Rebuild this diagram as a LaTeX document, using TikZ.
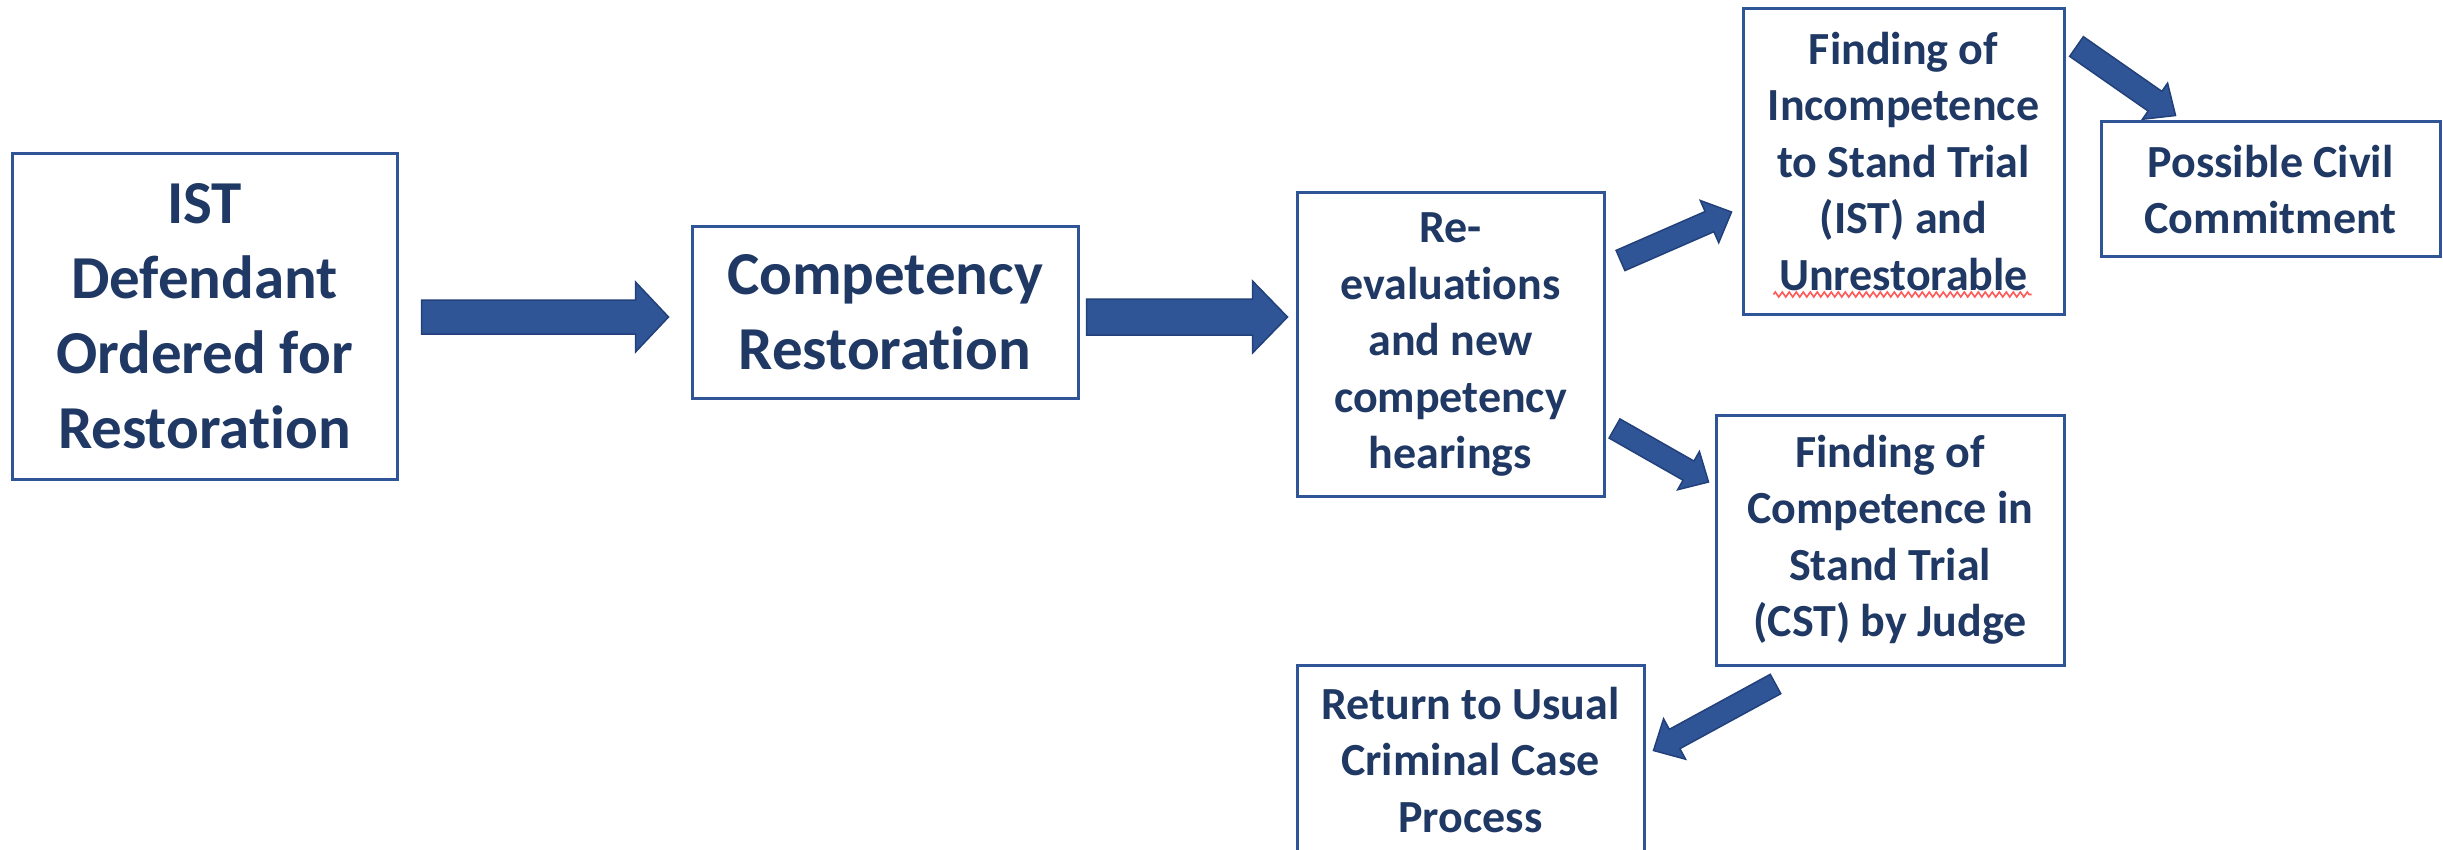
\documentclass[tikz,border=0pt]{standalone}
\usepackage{fontspec}
\setmainfont{Carlito}[Ligatures=NoCommon]
\usetikzlibrary{calc,decorations.pathmorphing}
\definecolor{boxblue}{HTML}{2F5597}
\definecolor{txtblue}{HTML}{1F3864}
\definecolor{arrowfill}{HTML}{2F5597}
\definecolor{arrowline}{HTML}{22407A}
\definecolor{squiggle}{HTML}{FF5A5A}
\tikzset{
  box/.style={draw=boxblue, line width=3pt, fill=white, text=txtblue, align=center, inner sep=0pt},
  bigtext/.style={font=\bfseries\fontsize{61}{75}\selectfont},
  smalltext/.style={font=\bfseries\fontsize{46}{56.5}\selectfont},
  fatsty/.style={fill=arrowfill, draw=arrowline, line width=1.5pt, line join=miter},
  spell/.style={draw=squiggle, line width=1.6pt, decorate, decoration={zigzag, amplitude=2.5pt, segment length=7pt}}
}
% start, tip, shaft half width, head half width, head length
\newcommand\fatarrow[5]{%
  \coordinate (hb) at ($(#2)!#5!(#1)$);
  \filldraw[fatsty] ($(#1)!#3!90:(#2)$) -- ($(hb)!#3!90:(#2)$) -- ($(hb)!#4!90:(#2)$) -- (#2)
    -- ($(hb)!#4!-90:(#2)$) -- ($(hb)!#3!-90:(#2)$) -- ($(#1)!#3!-90:(#2)$) -- cycle;
}
\begin{document}
\begin{tikzpicture}[x=1pt, y=-1pt]
\useasboundingbox[fill=white] (0,0) rectangle (2443,850);

\node[box, bigtext, minimum width=385pt, minimum height=325pt] (b1) at (204.5,316.5)
  {IST\\Defendant\\Ordered for\\Restoration};
\node[box, bigtext, minimum width=386pt, minimum height=171pt] (b2) at (885,312.5)
  {Competency\\Restoration};
\node[box, smalltext, minimum width=307pt, minimum height=303pt] (b3) at (1450.5,344.5)
  {Re-\\evaluations\\and new\\competency\\hearings};
\node[box, smalltext, minimum width=321pt, minimum height=305pt] (b4) at (1903.5,161.5)
  {Finding of\\Incompetence\\to Stand Trial\\(IST) and\\Unrestorable};
\node[box, smalltext, minimum width=339pt, minimum height=135pt] (b5) at (2270.5,189.5)
  {Possible Civil\\Commitment};
\node[box, smalltext, minimum width=348pt, minimum height=250pt] (b6) at (1890,540)
  {Finding of\\Competence in\\Stand Trial\\(CST) by Judge};
\node[box, smalltext, minimum width=347pt, minimum height=190pt] (b7) at (1470.5,760)
  {Return to Usual\\Criminal Case\\Process};

% spell-check underline
\draw[spell] ($(b4.south west)+(32,-21)$) -- ($(b4.south east)+(-34,-21)$);

% connectors
\coordinate (a1s) at ($(b1.east)+(23,0.5)$);
\coordinate (a1t) at ($(b2.west)+(-22,4.5)$);
\coordinate (a2s) at ($(b2.east)+(7,4.5)$);
\coordinate (a2t) at ($(b3.west)+(-8,-27.5)$);
\coordinate (a3s) at ($(b3.east)+(15,-84)$);
\coordinate (a3t) at ($(b4.west)+(-10,50.5)$);
\coordinate (a4s) at ($(b3.east)+(9,84)$);
\coordinate (a4t) at ($(b6.west)+(-6,-58)$);
\coordinate (a5s) at ($(b4.north east)+(11,39)$);
\coordinate (a5t) at ($(b5.north west)+(76,-5)$);
\coordinate (a6s) at ($(b6.south)+(-114.5,17.5)$);
\coordinate (a6t) at ($(b7.north east)+(8,87)$);

\fatarrow{a1s}{a1t}{17pt}{35pt}{33pt}
\fatarrow{a2s}{a2t}{18pt}{36pt}{35pt}
\fatarrow{a3s}{a3t}{11pt}{23pt}{24pt}
\fatarrow{a4s}{a4t}{11pt}{22pt}{23pt}
\fatarrow{a5s}{a5t}{12pt}{22pt}{25pt}
\fatarrow{a6s}{a6t}{11pt}{23pt}{24pt}
\end{tikzpicture}
\end{document}
